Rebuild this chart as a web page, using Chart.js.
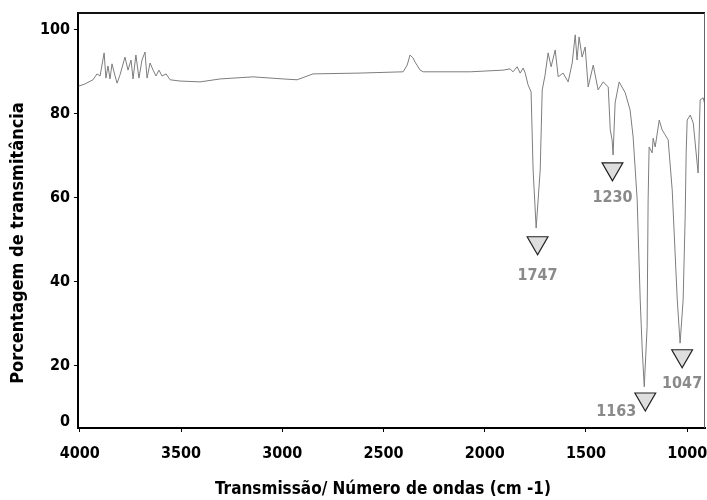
<!DOCTYPE html>
<html>
<head>
<meta charset="utf-8">
<script src="https://cdn.jsdelivr.net/npm/chart.js@4.4.1/dist/chart.umd.min.js"></script>
<style>
  html, body { margin: 0; padding: 0; background: #fff; }
  #wrap { width: 707px; height: 500px; }
</style>
</head>
<body>
<div id="wrap"><canvas id="espectro" width="707" height="500"></canvas></div>
<script>
// Espectro IR: número de onda (cm-1) e % de transmitância
const numeroOnda = [
  4005, 3975, 3935, 3915, 3900, 3880, 3871, 3861, 3851, 3841, 3826, 3816, 3802,
  3777, 3762, 3747, 3737, 3723, 3708, 3693, 3678, 3668, 3653, 3638, 3624, 3609,
  3594, 3574, 3554, 3505, 3406, 3307, 3144, 2996, 2927, 2848, 2616, 2403, 2383,
  2369, 2354, 2344, 2319, 2304, 2072, 1909, 1875, 1860, 1840, 1825, 1810, 1800,
  1786, 1771, 1761, 1746, 1726, 1716, 1702, 1687, 1672, 1652, 1637, 1613, 1588,
  1568, 1553, 1544, 1534, 1519, 1504, 1489, 1464, 1440, 1415, 1390, 1380, 1371,
  1366, 1356, 1336, 1306, 1282, 1267, 1247, 1232, 1222, 1212, 1198, 1193, 1188,
  1173, 1168, 1158, 1138, 1124, 1109, 1094, 1074, 1049, 1035, 1020, 1010, 1005,
  1000, 985, 970, 951, 946, 936, 921, 912
];
const transmitancia = [
  86.6, 87.1, 88.1, 89.5, 89.0, 94.5, 88.5, 91.4, 88.3, 91.9, 89.0, 87.3, 89.2,
  93.5, 90.4, 92.8, 88.3, 94.0, 88.5, 92.8, 94.7, 88.5, 92.1, 90.4, 89.0, 90.4,
  89.0, 89.5, 88.1, 87.8, 87.6, 88.3, 88.8, 88.3, 88.1, 89.5, 89.7, 90.0, 91.6,
  94.0, 93.3, 92.3, 90.4, 90.0, 90.0, 90.4, 90.7, 90.0, 91.2, 89.7, 90.9, 89.7,
  86.9, 85.2, 66.6, 52.8, 66.6, 85.7, 89.2, 94.5, 91.2, 95.2, 88.8, 89.7, 87.6,
  92.1, 98.8, 92.8, 98.3, 93.5, 95.9, 86.4, 91.6, 85.7, 87.6, 86.4, 76.2, 73.8,
  70.2, 82.6, 87.6, 85.0, 80.9, 74.5, 59.5, 35.7, 23.8, 15.0, 29.2, 59.5, 72.1,
  70.7, 74.2, 72.1, 78.5, 76.2, 75.0, 73.8, 61.9, 35.7, 25.4, 35.7, 55.4, 70.7,
  78.5, 79.7, 77.8, 68.3, 65.9, 83.3, 83.8, 82.1
];

// Marcadores de picos
const picoX = [1739, 1369, 1207, 1025];
const picoY = [49.3, 66.9, 12.1, 22.4];
const picoRotulo = ['1747', '1230', '1163', '1047'];

// Ticks
const ticksX = [4000, 3500, 3000, 2500, 2000, 1500, 1000];
const ticksY = [0, 20, 40, 60, 80, 100];

const fonteNarrow = "'Liberation Sans Narrow', 'Arial Narrow', 'DejaVu Sans Condensed', sans-serif";

// deslocamento dos rótulos em relação ao triângulo (px)
const deslocRotulo = [[0, 33], [0, 29], [-29, 13], [0, 28]];

const pontosEspectro = numeroOnda.map((x, i) => ({ x: x, y: transmitancia[i] }));
const pontosPico = picoX.map((x, i) => ({ x: x, y: picoY[i] }));

const Y_MIN = 5.2;

// Moldura (topo e direita) + rótulos dos picos + títulos
const extras = {
  id: 'extras',
  afterDatasetsDraw(chart) {
    const c = chart.ctx;
    const a = chart.chartArea;
    c.save();
    c.strokeStyle = '#111';
    c.lineWidth = 2;
    c.beginPath();
    c.moveTo(a.left, a.top);
    c.lineTo(a.right, a.top);
    c.stroke();
    c.strokeStyle = '#666';
    c.lineWidth = 1;
    c.beginPath();
    c.moveTo(a.right - 0.5, a.top);
    c.lineTo(a.right - 0.5, a.bottom);
    c.stroke();

    const sx = chart.scales.x, sy = chart.scales.y;
    c.fillStyle = '#8a8a8a';
    c.font = 'bold 16px ' + fonteNarrow;
    c.textAlign = 'center';
    c.textBaseline = 'middle';
    picoRotulo.forEach((t, i) => {
      const px = sx.getPixelForValue(picoX[i]) + deslocRotulo[i][0];
      const py = sy.getPixelForValue(picoY[i]) + deslocRotulo[i][1];
      c.fillText(t, px, py);
    });

    c.fillStyle = '#000';
    c.font = 'bold 17px ' + fonteNarrow;
    c.fillText('Transmissão/ Número de ondas (cm -1)', 383, 490);
    c.font = 'bold 18px ' + fonteNarrow;
    c.translate(18, 243);
    c.rotate(-Math.PI / 2);
    c.fillText('Porcentagem de transmitância', 0, 0);
    c.restore();
  }
};

const ctx = document.getElementById('espectro').getContext('2d');
const grafico = new Chart(ctx, {
  type: 'scatter',
  data: {
    datasets: [
      {
        type: 'line',
        data: pontosEspectro,
        borderColor: '#7d7d7d',
        borderWidth: 1,
        pointRadius: 0,
        tension: 0,
        fill: false
      },
      {
        type: 'scatter',
        data: pontosPico,
        pointStyle: 'triangle',
        rotation: 180,
        radius: 12,
        backgroundColor: '#dedede',
        borderColor: '#222',
        borderWidth: 1.2
      }
    ]
  },
  options: {
    responsive: false,
    animation: false,
    layout: { autoPadding: false, padding: { top: 13, right: 2, left: 0, bottom: 0 } },
    plugins: {
      legend: { display: false },
      tooltip: { enabled: false }
    },
    scales: {
      x: {
        type: 'linear',
        reverse: true,
        min: 912,
        max: 4009,
        afterBuildTicks: (s) => { s.ticks = ticksX.map(v => ({ value: v })); },
        afterFit: (s) => { s.height = 72; s.paddingLeft = 0; s.paddingRight = 0; },
        border: { color: '#000', width: 2 },
        grid: { drawOnChartArea: false, drawTicks: true, tickLength: 4, color: '#000' },
        ticks: {
          color: '#000',
          padding: 12,
          maxRotation: 0,
          font: { family: fonteNarrow, size: 16, weight: 'bold' },
          callback: (v) => String(v)
        }
      },
      y: {
        type: 'linear',
        min: Y_MIN,
        max: 104,
        afterBuildTicks: (s) => {
          s.ticks = ticksY.map(v => ({ value: v === 0 ? 6.6 : v }));
        },
        afterFit: (s) => { s.width = 78; s.paddingTop = 0; s.paddingBottom = 0; },
        border: { color: '#000', width: 2 },
        grid: {
          drawOnChartArea: false,
          drawTicks: true,
          tickLength: 4,
          color: (c) => (c.tick && c.tick.value < 10 ? 'rgba(0,0,0,0)' : '#000')
        },
        ticks: {
          color: '#000',
          padding: 4,
          font: { family: fonteNarrow, size: 16, weight: 'bold' },
          callback: (v) => (v < 10 ? '0' : String(v))
        }
      }
    }
  },
  plugins: [extras]
});
</script>
</body>
</html>
